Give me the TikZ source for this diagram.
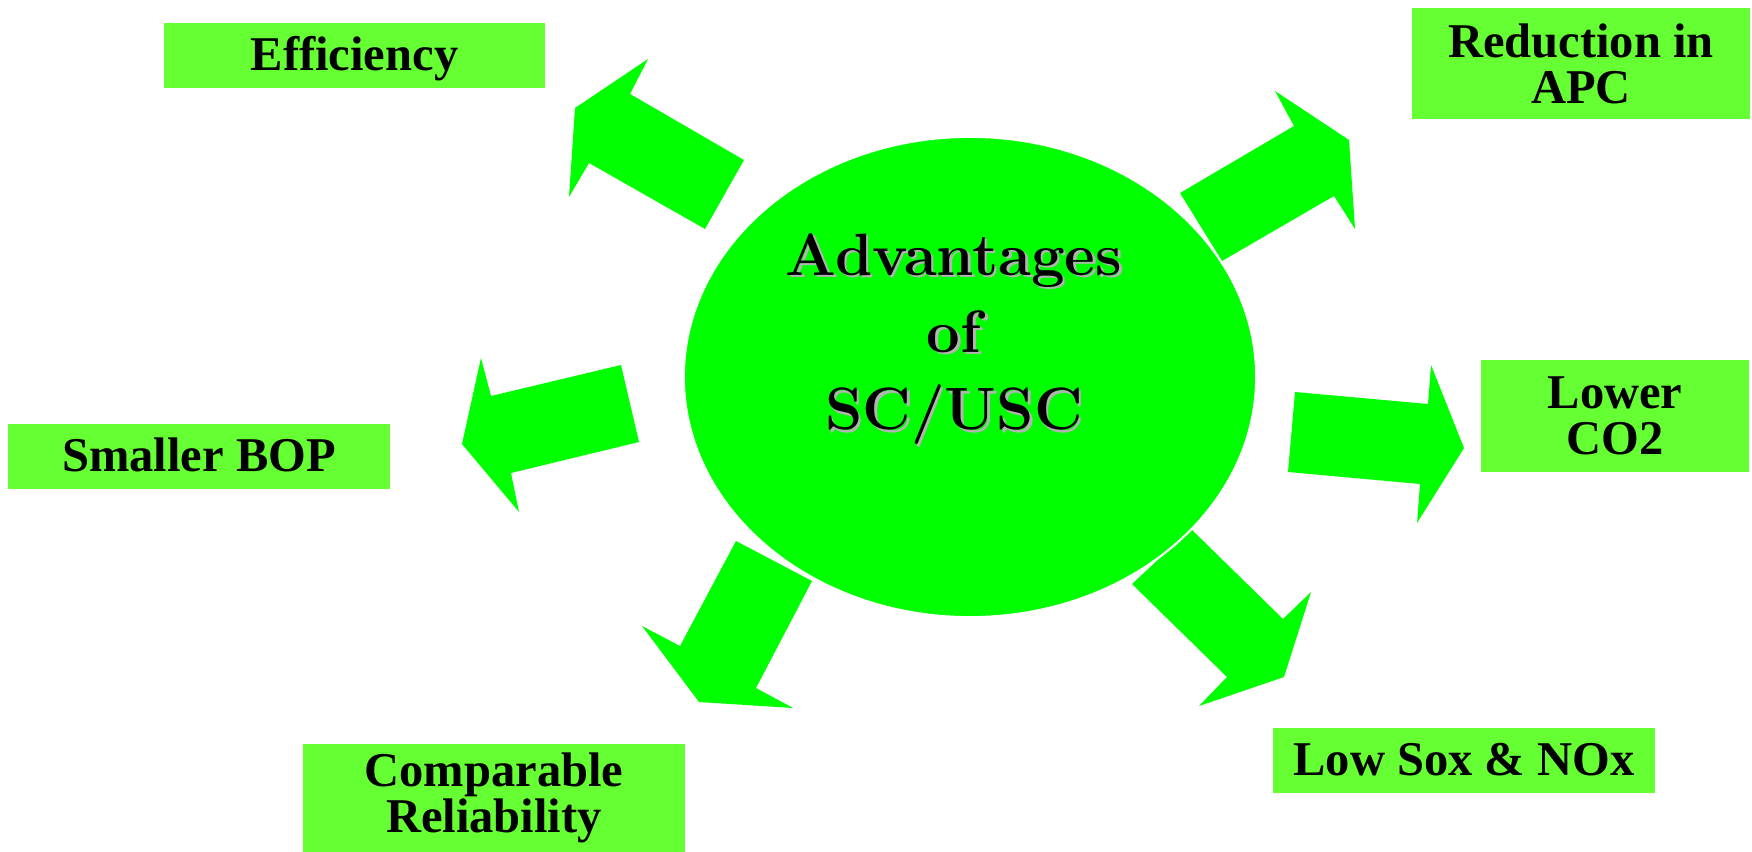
\documentclass[tikz,border=0pt]{standalone}
\usepackage{fontspec}
\newfontfamily\boxfont{Liberation Serif}
\usetikzlibrary{shapes.geometric}
\definecolor{boxgreen}{HTML}{66FF33}
\definecolor{arrowgreen}{HTML}{00FF00}
\definecolor{shadowgray}{HTML}{B4B4B4}
\begin{document}
\begin{tikzpicture}[x=0.01cm,y=-0.01cm,
	box/.style={fill=boxgreen,inner sep=0pt,align=center,font=\boxfont\bfseries\fontsize{13.8}{13.1}\selectfont},
	oneline/.style={text height=0.33cm,text depth=0.04cm},
	bigarrow/.style={fill=arrowgreen},
	title/.style={align=center,inner sep=0pt,font=\bfseries\fontsize{17}{22}\selectfont}]
	\useasboundingbox (0,0) rectangle (1752,852);
	\fill[bigarrow] (744,160)--(630,94)--(648,59)--(575,108)--(569,197)--(589,163)--(705,229)--cycle;
	\fill[bigarrow] (1180,193)--(1294,126)--(1275,91)--(1349,140)--(1355,229)--(1334,196)--(1222,261)--cycle;
	\fill[bigarrow] (621,365)--(491,396)--(481,358)--(462,444)--(519,512)--(511,473)--(639,442)--cycle;
	\fill[bigarrow] (1295,392)--(1428,404)--(1431,365)--(1464,448)--(1417,523)--(1420,484)--(1288,472)--cycle;
	\fill[bigarrow] (736,541)--(812,581)--(756,688)--(793,708)--(699,702)--(642,626)--(680,646)--cycle;
	\fill[bigarrow] (1191,529)--(1283,619)--(1311,592)--(1284,677)--(1199,706)--(1227,677)--(1132,584)--cycle;
	\node[ellipse,fill=arrowgreen,draw=white,line width=0.6pt,minimum width=5.72cm,minimum height=4.8cm] (adv) at (970,377) {};
	\node[title,text=shadowgray] (advshadow) at (956.5,341.5) {Advantages\\of\\SC/USC};
	\node[title] (advtext) at (954,339) {Advantages\\of\\SC/USC};
	\node[box,oneline,minimum width=3.81cm,minimum height=0.65cm] (effic) at (354.5,55.5) {Efficiency};
	\node[box,minimum width=3.38cm,minimum height=1.11cm] (apc) at (1581,63.5) {Reduction in\\APC};
	\node[box,oneline,minimum width=3.82cm,minimum height=0.65cm] (bop) at (199,456.5) {Smaller BOP};
	\node[box,minimum width=2.68cm,minimum height=1.12cm] (co2) at (1615,416) {Lower\\CO2};
	\node[box,minimum width=3.82cm,minimum height=1.08cm] (reliab) at (494,798) {Comparable\\Reliability};
	\node[box,oneline,minimum width=3.82cm,minimum height=0.65cm] (lowsox) at (1464,760.5) {Low Sox \& NOx};
\end{tikzpicture}
\end{document}
